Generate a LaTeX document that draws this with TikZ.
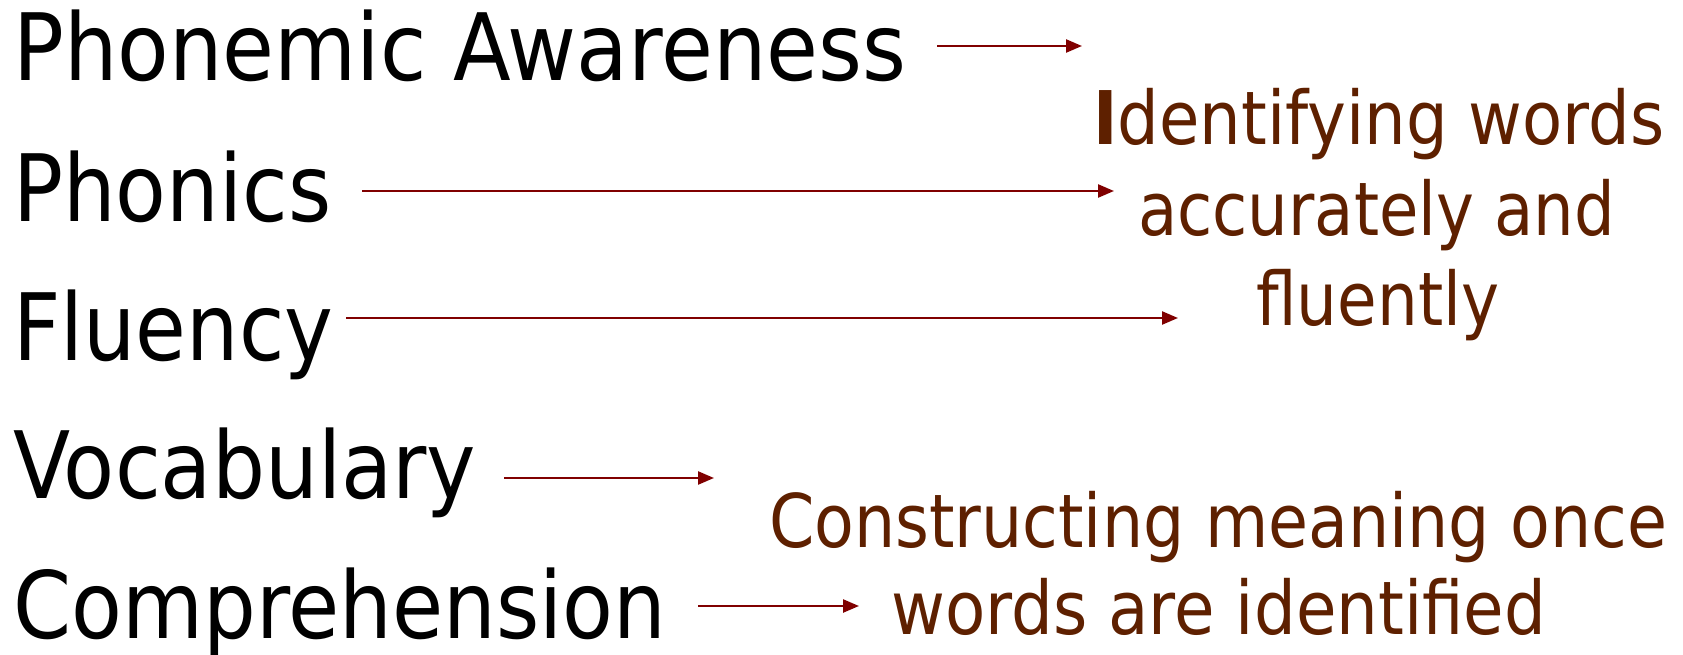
\documentclass[tikz,border=0pt]{standalone}
\usepackage{fontspec}
\setmainfont{DejaVu Sans}
\usetikzlibrary{arrows.meta}
\definecolor{arrowred}{RGB}{128,0,0}
\definecolor{notebrown}{RGB}{94,32,0}
% stretch a line of text to a given width, keeping its height
\newcommand{\fitto}[2]{\resizebox{#1}{\height}{#2}}
\tikzset{
  skill/.style={anchor=base west, inner sep=0pt, font=\fontsize{93}{100}\selectfont, text=black},
  note/.style={anchor=base west, inner sep=0pt, font=\fontsize{74}{80}\selectfont, text=notebrown},
  link/.style={draw=arrowred, line width=2.4pt, -{Triangle[length=16pt,width=13pt]}}
}
\begin{document}
\begin{tikzpicture}[x=1pt,y=-1pt]
\useasboundingbox (0,0) rectangle (1683,655);

% skills, left column
\node[skill] (pa)   at (13,81)  {\fitto{893pt}{Phonemic Awareness}};
\node[skill] (ph)   at (13,222) {\fitto{318pt}{Phonics}};
\node[skill] (fl)   at (13,360) {\fitto{320pt}{Fluency}};
\node[skill] (voc)  at (13,498) {\fitto{463pt}{Vocabulary}};
\node[skill] (comp) at (13,638) {\fitto{653pt}{Comprehension}};

% outcomes, right side
\node[note] (id1) at (1093,145) {\fitto{571pt}{\textbf{I}dentifying words}};
\node[note] (id2) at (1138,235) {\fitto{477pt}{accurately and}};
\node[note] (id3) at (1256,325) {\fitto{243pt}{fluently}};
\node[note] (cm1) at (769,547)  {\fitto{898pt}{Constructing meaning once}};
\node[note] (cm2) at (891,634)  {\fitto{655pt}{words are identified}};

% arrow end points
\coordinate (a1s) at (937,46);  \coordinate (a1e) at (1082,46);
\coordinate (a2s) at (362,191); \coordinate (a2e) at (1114,191);
\coordinate (a3s) at (346,318); \coordinate (a3e) at (1178,318);
\coordinate (a4s) at (504,478); \coordinate (a4e) at (714,478);
\coordinate (a5s) at (698,606); \coordinate (a5e) at (859,606);

\draw[link] (a1s) -- (a1e);
\draw[link] (a2s) -- (a2e);
\draw[link] (a3s) -- (a3e);
\draw[link] (a4s) -- (a4e);
\draw[link] (a5s) -- (a5e);
\end{tikzpicture}
\end{document}
